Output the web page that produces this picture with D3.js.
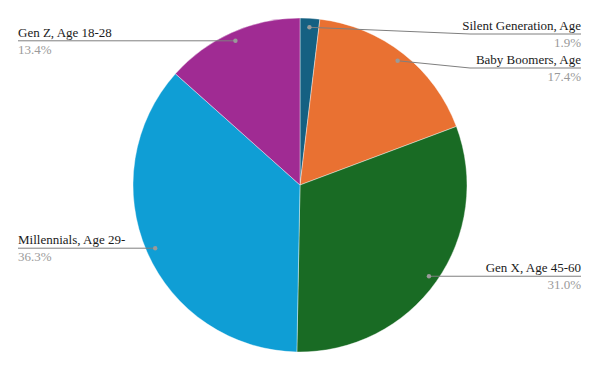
<!DOCTYPE html>
<html>
<head>
<meta charset="utf-8">
<script src="https://cdn.jsdelivr.net/npm/d3@7"></script>
<style>
  body { margin: 0; background: #fff; }
  svg { display: block; }
</style>
</head>
<body>
<div id="chart"></div>
<script>
let labels = ['Silent Generation, Age', 'Baby Boomers, Age', 'Gen X, Age 45-60', 'Millennials, Age 29-', 'Gen Z, Age 18-28']
let shares = [1.9, 17.4, 31.0, 36.3, 13.4]
let colors = ['#156082', '#e97132', '#196b24', '#0f9ed5', '#a02b93']

let width = 600
let height = 371
let cx = 300
let cy = 185
let radius = 167

let svg = d3
  .select('#chart')
  .append('svg')
  .attr('width', width)
  .attr('height', height)

let g = svg.append('g').attr('transform', `translate(${cx},${cy})`)

let pie = d3.pie().sort(null).value(d => d.value)
let arc = d3.arc().innerRadius(0).outerRadius(radius)
let dotArc = d3.arc().innerRadius(radius * 0.946).outerRadius(radius * 0.946)

let data = labels.map((l, i) => ({ label: l, value: shares[i], color: colors[i] }))
let arcs = pie(data)

g.selectAll('path.slice')
  .data(arcs)
  .enter()
  .append('path')
  .attr('class', 'slice')
  .attr('d', arc)
  .attr('fill', d => d.data.color)
  .attr('stroke', '#fff')
  .attr('stroke-width', 0.4)

// label layout: right side labels get pushed down so they don't overlap
let placed = arcs.map(d => {
  let [x, y] = dotArc.centroid(d)
  let mid = (d.startAngle + d.endAngle) / 2
  return { d: d, x: x + cx, y: y + cy, right: mid < Math.PI, ly: y + cy }
})
let minGap = 34
let topY = 34
let rights = placed.filter(p => p.right).sort((a, b) => a.y - b.y)
let last = topY - minGap
rights.forEach(p => {
  p.ly = Math.max(p.y, last + minGap)
  last = p.ly
})

let leftX = 18
let rightX = 581
let elbowX = 470

let labelG = svg.append('g')

placed.forEach(p => {
  let pts
  if (p.right) {
    pts = Math.abs(p.ly - p.y) > 1
      ? [[p.x, p.y], [elbowX, p.ly], [rightX, p.ly]]
      : [[p.x, p.y], [rightX, p.ly]]
  } else {
    pts = [[p.x, p.y], [leftX, p.ly]]
  }
  labelG.append('path')
    .attr('d', d3.line()(pts))
    .attr('fill', 'none')
    .attr('stroke', '#7f7f7f')
    .attr('stroke-width', 1)
  labelG.append('circle')
    .attr('cx', p.x)
    .attr('cy', p.y)
    .attr('r', 2.2)
    .attr('fill', '#9a9a9a')

  let tx = p.right ? rightX : leftX
  let anchor = p.right ? 'end' : 'start'
  labelG.append('text')
    .attr('x', tx)
    .attr('y', p.ly - 4)
    .attr('text-anchor', anchor)
    .style('font-family', "'Liberation Serif'")
    .style('font-size', '13px')
    .attr('fill', '#1a1a1a')
    .text(p.d.data.label)
  labelG.append('text')
    .attr('x', tx)
    .attr('y', p.ly + 13)
    .attr('text-anchor', anchor)
    .style('font-family', "'Liberation Serif'")
    .style('font-size', '13px')
    .attr('fill', '#9a9a9a')
    .text(p.d.data.value.toFixed(1) + '%')
})
</script>
</body>
</html>
